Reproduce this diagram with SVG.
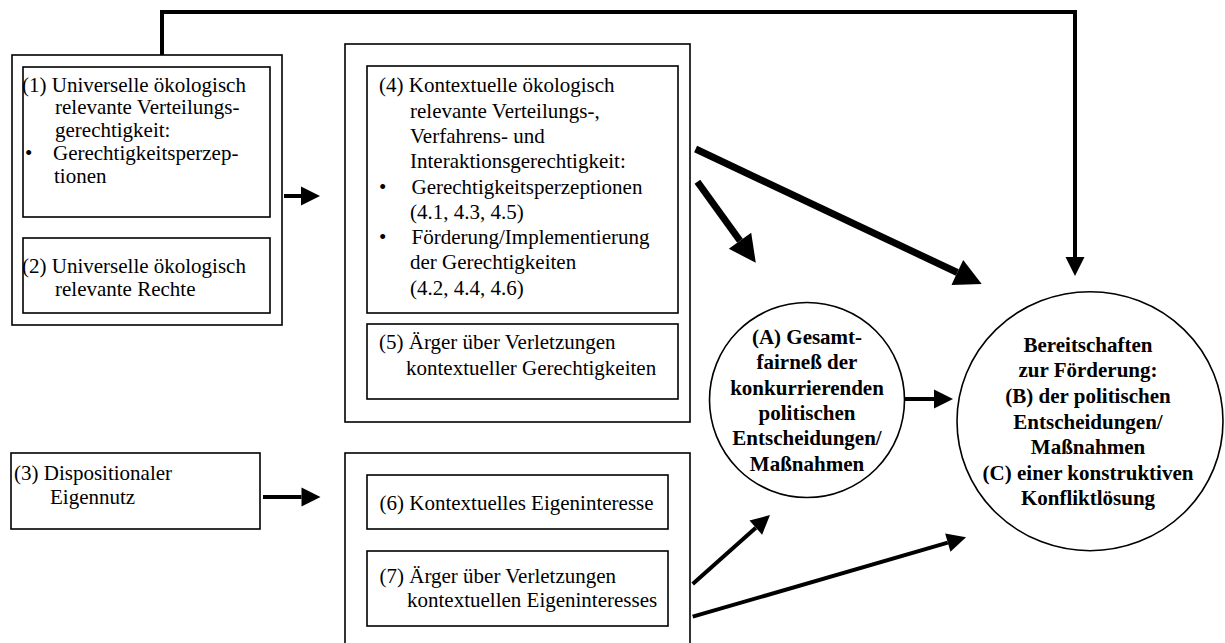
<svg xmlns="http://www.w3.org/2000/svg" width="1225" height="643" viewBox="0 0 1225 643">
<style>
  .box { fill: none; stroke: #000; stroke-width: 1.6; }
  .circ { fill: #fff; stroke: #000; stroke-width: 1.6; }
  .t { font-family: "Liberation Serif", "Times New Roman", serif; font-size: 21px; fill: #000; }
  .b { font-family: "Liberation Serif", "Times New Roman", serif; font-size: 21px; font-weight: bold; fill: #000; text-anchor: middle; }
  .ln { fill: none; stroke: #000; stroke-width: 4; stroke-linecap: butt; }
  .thick { fill: none; stroke: #000; stroke-width: 7; stroke-linecap: butt; }
</style>
<defs>
  <marker id="ah" markerUnits="userSpaceOnUse" markerWidth="20" markerHeight="19" refX="0" refY="9.5" orient="auto" overflow="visible">
    <path d="M0,0 L19,9.5 L0,19 Z" fill="#000"/>
  </marker>
  <marker id="ahBig" markerUnits="userSpaceOnUse" markerWidth="28" markerHeight="28" refX="0" refY="13.8" orient="auto" overflow="visible">
    <path d="M0,0 L27,13.8 L0,27.6 Z" fill="#000"/>
  </marker>
</defs>
<rect width="1225" height="643" fill="#fff"/>

<g id="group12">
  <rect class="box" x="12" y="55" width="270" height="270"/>
</g>
<g id="node1">
  <rect class="box" x="23" y="67" width="247" height="150"/>
  <text class="t" x="22" y="91.5">(1) Universelle ökologisch</text>
  <text class="t" x="55" y="114.2">relevante Verteilungs-</text>
  <text class="t" x="55" y="137">gerechtigkeit:</text>
  <text class="t" x="25" y="159.7">•</text>
  <text class="t" x="53" y="159.7">Gerechtigkeitsperzep-</text>
  <text class="t" x="54" y="182.5">tionen</text>
</g>
<g id="node2">
  <rect class="box" x="23" y="238" width="247" height="75"/>
  <text class="t" x="22" y="273">(2) Universelle ökologisch</text>
  <text class="t" x="55" y="296.3">relevante Rechte</text>
</g>
<g id="node3">
  <rect class="box" x="11" y="453" width="249" height="76"/>
  <text class="t" x="14" y="480">(3) Dispositionaler</text>
  <text class="t" x="50" y="504">Eigennutz</text>
</g>

<g id="group45">
  <rect class="box" x="345" y="44" width="345" height="378"/>
</g>
<g id="node4">
  <rect class="box" x="367" y="66" width="311" height="247"/>
  <text class="t" x="379" y="92.3">(4) Kontextuelle ökologisch</text>
  <text class="t" x="410" y="117.6">relevante Verteilungs-,</text>
  <text class="t" x="410" y="142.9">Verfahrens- und</text>
  <text class="t" x="410" y="168.2">Interaktionsgerechtigkeit:</text>
  <text class="t" x="379" y="193.5">•</text>
  <text class="t" x="411.5" y="193.5">Gerechtigkeitsperzeptionen</text>
  <text class="t" x="410" y="218.8">(4.1, 4.3, 4.5)</text>
  <text class="t" x="379" y="244.1">•</text>
  <text class="t" x="411.5" y="244.1">Förderung/Implementierung</text>
  <text class="t" x="410" y="269.4">der Gerechtigkeiten</text>
  <text class="t" x="410" y="294.7">(4.2, 4.4, 4.6)</text>
</g>
<g id="node5">
  <rect class="box" x="367" y="324" width="311" height="75"/>
  <text class="t" x="379" y="348.5">(5) Ärger über Verletzungen</text>
  <text class="t" x="406" y="374.5">kontextueller Gerechtigkeiten</text>
</g>

<g id="group67">
  <rect class="box" x="345" y="453" width="345" height="200"/>
</g>
<g id="node6">
  <rect class="box" x="367" y="475" width="301" height="54"/>
  <text class="t" x="379.5" y="510">(6) Kontextuelles Eigeninteresse</text>
</g>
<g id="node7">
  <rect class="box" x="367" y="551" width="301" height="75"/>
  <text class="t" x="379.5" y="582.7">(7) Ärger über Verletzungen</text>
  <text class="t" x="407" y="607.3">kontextuellen Eigeninteresses</text>
</g>

<g id="nodeA">
  <circle class="circ" cx="807" cy="400" r="97.5"/>
  <text class="b" x="807" y="344">(A) Gesamt-</text>
  <text class="b" x="807" y="369.3">fairneß der</text>
  <text class="b" x="807" y="394.6">konkurrierenden</text>
  <text class="b" x="807" y="419.9">politischen</text>
  <text class="b" x="807" y="445.2">Entscheidungen/</text>
  <text class="b" x="807" y="470.5">Maßnahmen</text>
</g>
<g id="nodeB">
  <ellipse class="circ" cx="1090" cy="421.2" rx="133" ry="129.5"/>
  <text class="b" x="1088" y="351.7">Bereitschaften</text>
  <text class="b" x="1088" y="377.3">zur Förderung:</text>
  <text class="b" x="1088" y="402.9">(B) der politischen</text>
  <text class="b" x="1088" y="428.5">Entscheidungen/</text>
  <text class="b" x="1088" y="454.1">Maßnahmen</text>
  <text class="b" x="1088" y="479.7">(C) einer konstruktiven</text>
  <text class="b" x="1088" y="505.3">Konfliktlösung</text>
</g>

<g id="connectors">
  <polyline class="ln" points="162,55 162,12 1075,12 1075,257" marker-end="url(#ah)"/>
  <line class="ln" x1="284" y1="196" x2="301" y2="196" marker-end="url(#ah)"/>
  <line class="ln" x1="263" y1="497" x2="301.5" y2="497" marker-end="url(#ah)"/>
  <line class="ln" x1="905" y1="399" x2="934" y2="399" marker-end="url(#ah)"/>
  <line class="ln" x1="692.7" y1="584" x2="755.8" y2="527.7" marker-end="url(#ah)"/>
  <line class="ln" x1="692.7" y1="616.7" x2="947.8" y2="542.6" marker-end="url(#ah)"/>
  <line class="thick" x1="695.6" y1="149" x2="957.3" y2="272.5" marker-end="url(#ahBig)"/>
  <line class="thick" x1="697.4" y1="181.7" x2="740" y2="240.8" marker-end="url(#ahBig)"/>
</g>
</svg>
